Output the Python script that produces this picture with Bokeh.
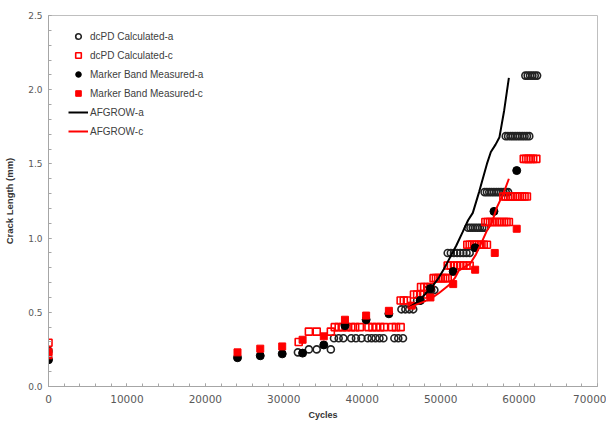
from bokeh.plotting import figure
from bokeh.models import Range1d, SingleIntervalTicker, NumeralTickFormatter, Legend, LegendItem
from bokeh.embed import file_html
from bokeh.resources import INLINE

# ---- data ----
dcpd_a_cycles = [0, 31800, 33200, 34200, 36000,
                 36400, 37000, 37600, 38600, 39200, 39900, 40700, 41200, 41700, 42200, 42700, 44100, 44600, 45200,
                 45000, 45500, 46000, 46500, 47000, 47400, 48300, 48800, 49200,
                 50900, 51300, 51700, 52100, 52500, 52900, 53300, 53700,
                 53500, 53800, 54100, 54400, 54700, 55000, 55300, 55600,
                 55600, 55900, 56200, 56500, 56800, 57100, 57400, 57700, 58000, 58300, 58600,
                 58300, 58600, 58900, 59200, 59500, 59800, 60100, 60400, 60700, 61000, 61300,
                 60800, 61100, 61400, 61700, 62000, 62300]
dcpd_a = [0.24, 0.23, 0.25, 0.25, 0.25,
          0.325, 0.325, 0.325, 0.325, 0.325, 0.325, 0.325, 0.325, 0.325, 0.325, 0.325, 0.325, 0.325, 0.325,
          0.52, 0.52, 0.52, 0.52, 0.58, 0.58, 0.65, 0.65, 0.65,
          0.90, 0.90, 0.90, 0.90, 0.90, 0.90, 0.90, 0.90,
          1.07, 1.07, 1.07, 1.07, 1.07, 1.07, 1.07, 1.07,
          1.31, 1.31, 1.31, 1.31, 1.31, 1.31, 1.31, 1.31, 1.31, 1.31, 1.31,
          1.687, 1.687, 1.687, 1.687, 1.687, 1.687, 1.687, 1.687, 1.687, 1.687, 1.687,
          2.095, 2.095, 2.095, 2.095, 2.095, 2.095]

dcpd_c_cycles = [0, 31900, 33200, 34200, 36000,
                 36500, 37000, 37500, 38000, 38600, 39100, 39700, 40800, 41300, 41800, 42300, 42800, 43800, 44300, 44900,
                 44900, 45300, 45700,
                 46600, 47000, 47400, 47800,
                 47500, 47900, 48300, 48700,
                 49100, 49400, 49700, 50000, 50300, 50600, 50900,
                 50900, 51300, 51700, 52100, 52500, 52900, 53300, 53700,
                 53400, 53700, 54000, 54300, 54600, 54900, 55200, 55500, 55900,
                 55700, 56000, 56300, 56600, 56900, 57200, 57500, 57800, 58100, 58400, 58700,
                 58000, 58300, 58600, 58900, 59200, 59500, 59800, 60100, 60400, 60700, 61000,
                 60600, 60900, 61200, 61500, 61800, 62200]
dcpd_c = [0.295, 0.30, 0.37, 0.37, 0.37,
          0.40, 0.40, 0.40, 0.40, 0.40, 0.40, 0.40, 0.40, 0.40, 0.40, 0.40, 0.40, 0.40, 0.40, 0.40,
          0.58, 0.58, 0.58,
          0.62, 0.62, 0.62, 0.62,
          0.67, 0.67, 0.67, 0.67,
          0.73, 0.73, 0.73, 0.73, 0.73, 0.73, 0.73,
          0.815, 0.815, 0.815, 0.815, 0.815, 0.815, 0.815, 0.815,
          0.955, 0.955, 0.955, 0.955, 0.955, 0.955, 0.955, 0.955, 0.955,
          1.108, 1.108, 1.108, 1.108, 1.108, 1.108, 1.108, 1.108, 1.108, 1.108, 1.108,
          1.28, 1.28, 1.28, 1.28, 1.28, 1.28, 1.28, 1.28, 1.28, 1.28, 1.28,
          1.534, 1.534, 1.534, 1.534, 1.534, 1.534]

mb_a_cycles = [0, 24100, 27000, 29800, 32400, 35100, 37800, 40500, 43400, 47400, 48700, 51600, 54400, 56800, 59700]
mb_a = [0.18, 0.194, 0.207, 0.22, 0.225, 0.28, 0.41, 0.45, 0.49, 0.58, 0.66, 0.775, 0.935, 1.18, 1.455]

mb_c_cycles = [0, 0, 24100, 27000, 29800, 32400, 35100, 37800, 40500, 43400, 46300, 48700, 51600, 54400, 56900, 59700]
mb_c = [0.21, 0.235, 0.23, 0.255, 0.27, 0.315, 0.338, 0.45, 0.478, 0.51, 0.545, 0.60, 0.69, 0.787, 0.90, 1.063]

afgrow_a_cycles = [45900, 46800, 47800, 48700, 49600, 50400, 51200, 52000, 52800, 53500, 54100, 54900, 55900, 56400, 57000, 57500, 58100, 58700]
afgrow_a = [0.53, 0.56, 0.61, 0.66, 0.72, 0.79, 0.87, 0.95, 1.04, 1.12, 1.17, 1.31, 1.50, 1.58, 1.63, 1.68, 1.86, 2.08]

afgrow_c_cycles = [45900, 46800, 47800, 48700, 49800, 51000, 51800, 52300, 53200, 53800, 54500, 55300, 55900, 56500, 57200, 58000, 58700]
afgrow_c = [0.53, 0.55, 0.57, 0.59, 0.63, 0.68, 0.73, 0.78, 0.81, 0.83, 0.89, 0.98, 1.05, 1.10, 1.21, 1.30, 1.40]

labels = ["dcPD Calculated-a", "dcPD Calculated-c", "Marker Band Measured-a",
          "Marker Band Measured-c", "AFGROW-a", "AFGROW-c"]

RED = "#ff0000"
FONT = "Liberation Sans"

p = figure(width=606, height=422, output_backend="svg", toolbar_location=None,
           x_range=Range1d(0, 70000), y_range=Range1d(0, 2.5),
           min_border_left=48, min_border_right=9, min_border_top=15, min_border_bottom=36)
p.xgrid.visible = False
p.ygrid.visible = False
p.outline_line_color = "#bfbfbf"
p.background_fill_color = "white"

r1 = p.scatter(dcpd_a_cycles, dcpd_a, marker="circle", size=7, fill_alpha=0,
               line_color="#222222", line_width=1.6)
r2 = p.scatter(dcpd_c_cycles, dcpd_c, marker="square", size=7, fill_alpha=0,
               line_color=RED, line_width=1.6)
r3 = p.scatter(mb_a_cycles, mb_a, marker="circle", size=8, fill_color="black", line_color="black")
r4 = p.scatter(mb_c_cycles, mb_c, marker="square", size=7, fill_color=RED, line_color=RED)
r5 = p.line(afgrow_a_cycles, afgrow_a, line_color="black", line_width=2)
r6 = p.line(afgrow_c_cycles, afgrow_c, line_color=RED, line_width=2)

legend = Legend(items=[LegendItem(label=l, renderers=[r]) for l, r in zip(labels, [r1, r2, r3, r4, r5, r6])],
                location=(20, 248))
legend.label_text_font = FONT
legend.label_text_font_size = "10px"
legend.label_text_color = "#404040"
legend.glyph_width = 20
legend.glyph_height = 14
legend.label_height = 14
legend.spacing = 5
legend.padding = 0
legend.margin = 0
legend.label_standoff = 2
legend.border_line_alpha = 0
legend.background_fill_alpha = 0
p.add_layout(legend)

p.xaxis.ticker = SingleIntervalTicker(interval=10000, num_minor_ticks=5)
p.yaxis.ticker = SingleIntervalTicker(interval=0.5, num_minor_ticks=5)
p.xaxis.formatter = NumeralTickFormatter(format="0")
p.yaxis.formatter = NumeralTickFormatter(format="0.0")

for ax in (p.xaxis, p.yaxis):
    ax.axis_line_color = "#a6a6a6"
    ax.major_tick_line_color = "#a6a6a6"
    ax.minor_tick_line_color = "#a6a6a6"
    ax.major_tick_in = 3
    ax.major_tick_out = 0
    ax.minor_tick_in = 3
    ax.minor_tick_out = 0
    ax.major_label_text_color = "#595959"
    ax.axis_label_text_font = FONT
    ax.axis_label_text_font_style = "bold"
    ax.axis_label_text_color = "#333333"

p.xaxis.major_label_text_font = "DejaVu Sans"
p.xaxis.major_label_text_font_size = "10.5px"
p.xaxis.major_label_standoff = 8
p.xaxis.axis_label = "Cycles"
p.xaxis.axis_label_text_font_size = "9px"
p.xaxis.axis_label_standoff = 4

p.yaxis.major_label_text_font = "DejaVu Sans"
p.yaxis.major_label_text_font_size = "9px"
p.yaxis.major_label_standoff = 6
p.yaxis.axis_label = "Crack Length (mm)"
p.yaxis.axis_label_text_font_size = "9.5px"
p.yaxis.axis_label_standoff = 10

open("out.html", "w").write(file_html(p, INLINE))
